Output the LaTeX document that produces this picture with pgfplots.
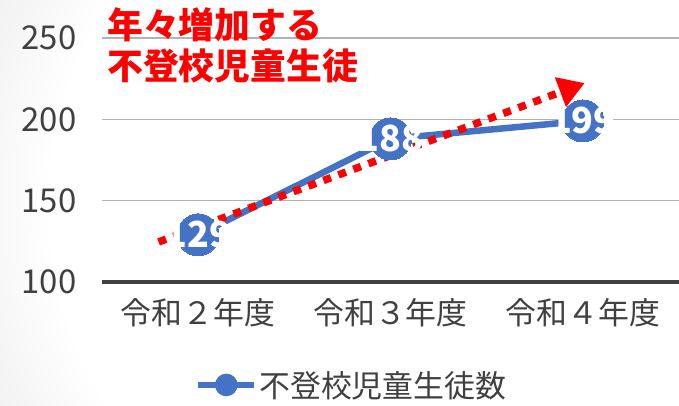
\documentclass[border=0pt]{standalone}
\usepackage{pgfplots}
\pgfplotsset{compat=1.18}
\usetikzlibrary{arrows.meta}
\usepackage{fontspec}
\setmainfont{Noto Sans CJK JP}
\definecolor{blu}{HTML}{4472C4}
\definecolor{tickgray}{HTML}{404040}
\pgfdeclareradialshading{bgshade}{\pgfpoint{0bp}{0bp}}{color(0bp)=(white); color(11bp)=(white); color(25bp)=(black!25); color(50bp)=(black!25)}
\begin{document}
\begin{tikzpicture}
\useasboundingbox (0bp,0bp) rectangle (679bp,406bp);
\begin{scope}
\clip (0bp,0bp) rectangle (679bp,406bp);
\fill[black!25] (0bp,0bp) rectangle (679bp,406bp);
\shade[shading=bgshade] (420bp,200bp) circle (840bp);
\end{scope}
\fill[white, opacity=0.25] (158bp,0bp) rectangle (545bp,47bp);
\begin{axis}[
  at={(102bp,124bp)}, anchor=south west,
  scale only axis, width=577bp, height=244bp,
  xmin=-0.5, xmax=2.5, ymin=100, ymax=250,
  clip=false,
  axis line style={draw=none},
  major tick length=0,
  ytick={150,200,250},
  ymajorgrids,
  grid style={draw=black!30, line width=1.2bp},
  extra y ticks={100},
  extra y tick style={grid style={draw=black!75, line width=3.5bp}},
  xtick={0,1,2},
  xticklabels={令和２年度,令和３年度,令和４年度},
  xticklabel style={font=\fontsize{31}{36}\selectfont, text=tickgray, yshift=-13bp},
  yticklabel style={font=\fontsize{33}{38}\selectfont, text=tickgray, xshift=-22bp},
  /pgf/number format/assume math mode=true,
  legend style={at={(0.433,-0.422)}, anchor=center, draw=none, fill=none,
    font=\fontsize{31}{36}\selectfont, text=tickgray, inner sep=0pt},
  legend cell align=left,
]
\addplot[blu, line width=6.5bp, mark=*, mark size=21bp,
  mark options={fill=blu, draw=blu, line width=0pt},
  nodes near coords,
  nodes near coords style={anchor=center, text=white, font=\bfseries\fontsize{36}{40}\selectfont},
  legend image code/.code={
    \draw[blu, line width=6bp] (0bp,0bp) -- (56bp,0bp);
    \fill[blu] (28bp,0bp) circle (8bp);
  }]
coordinates {(0,129) (1,188) (2,199)};
\addlegendentry{不登校児童生徒数}
\addplot[red, line width=7.5bp, dash pattern=on 8bp off 8bp,
  -{Triangle[length=26bp,width=30bp,sep=0pt]}, forget plot]
coordinates {(-0.206,124.6) (2.01,222.3)};
\end{axis}
\node[anchor=north west, align=left, text=red, inner sep=0pt,
  font=\bfseries\fontsize{36}{42}\selectfont] at (107bp,399bp) {年々増加する\\不登校児童生徒};
\end{tikzpicture}
\end{document}
